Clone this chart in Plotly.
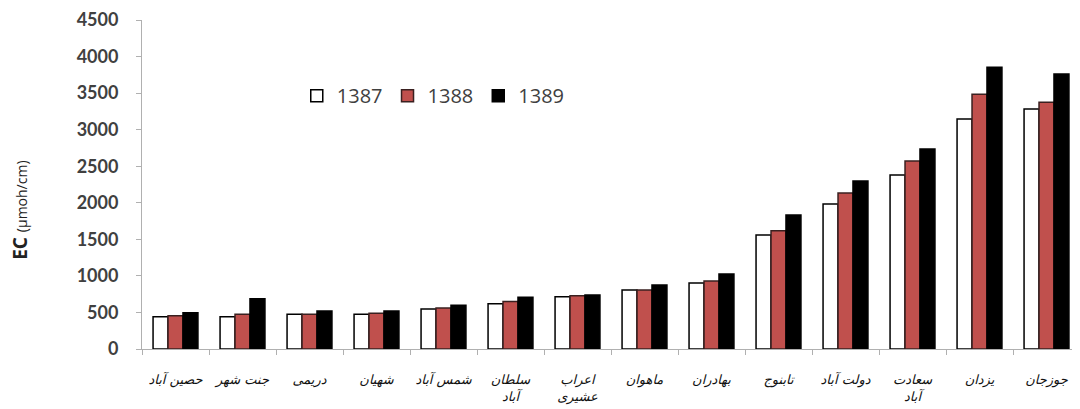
import plotly.graph_objects as go

categories = ["حصین آباد", "جنت شهر", "دریمی", "شهیان", "شمس آباد", "سلطان<br>آباد",
              "اعراب<br>عشیری", "ماهوان", "بهادران", "تابنوج", "دولت آباد", "سعادت<br>آباد",
              "یزدان", "جوزجان"]
series_names = ["1387", "1388", "1389"]
v1387 = [442, 442, 474, 474, 547, 620, 716, 807, 903, 1560, 1984, 2380, 3146, 3283]
v1388 = [455, 474, 474, 488, 561, 648, 730, 807, 930, 1618, 2134, 2572, 3484, 3375]
v1389 = [497, 688, 520, 520, 597, 707, 739, 876, 1026, 1833, 2298, 2736, 3853, 3762]
y_ticks = [0, 500, 1000, 1500, 2000, 2500, 3000, 3500, 4000, 4500]
y_title = "<b>EC</b> <span style='font-size:14px'>(µmoh/cm)</span>"

colors = ["#FFFFFF", "#C0504D", "#000000"]
line_colors = ["#000000", "#3a2020", "#000000"]

fig = go.Figure()
for name, vals, c, lc in zip(series_names, [v1387, v1388, v1389], colors, line_colors):
    fig.add_trace(go.Bar(
        x=categories, y=vals, name=name,
        marker=dict(color=c, line=dict(color=lc, width=1.5)),
    ))

fig.update_layout(
    width=1072, height=401,
    margin=dict(l=134, r=0, t=12, b=60),
    paper_bgcolor="white", plot_bgcolor="white",
    barmode="group", bargap=0.33, bargroupgap=0,
    showlegend=True,
    legend=dict(orientation="h", x=0.165, y=0.77, xanchor="left", yanchor="middle",
                font=dict(family="Open Sans, Lato, sans-serif", size=20, color="#404040"),
                itemwidth=30, traceorder="normal", bgcolor="rgba(0,0,0,0)"),
    font=dict(family="Lato, sans-serif"),
)
fig.add_annotation(
    text=y_title, xref="paper", yref="paper", x=0, y=0.42, xshift=-122,
    xanchor="center", yanchor="middle", textangle=-90, showarrow=False,
    font=dict(family="Open Sans, sans-serif", size=19, color="#222"),
)
fig.update_yaxes(
    range=[0, 4500], tickvals=y_ticks, ticktext=[str(t) for t in y_ticks],
    showgrid=False, zeroline=False, automargin=False,
    showline=True, linecolor="#b0b0b0", linewidth=1,
    ticks="outside", ticklen=5, tickcolor="#b0b0b0", ticklabelstandoff=14,
    tickfont=dict(family="Lato, sans-serif", size=18, color="#404040", weight="bold"),
)
fig.update_xaxes(
    showgrid=False, showline=True, linecolor="#b0b0b0", linewidth=1, automargin=False,
    ticks="outside", ticklen=5, tickcolor="#b0b0b0", tickson="boundaries",
    tickangle=0, ticklabelstandoff=18,
    tickfont=dict(family="DejaVu Sans, sans-serif", size=13, color="#111", style="italic"),
)

fig.write_html("out.html")
